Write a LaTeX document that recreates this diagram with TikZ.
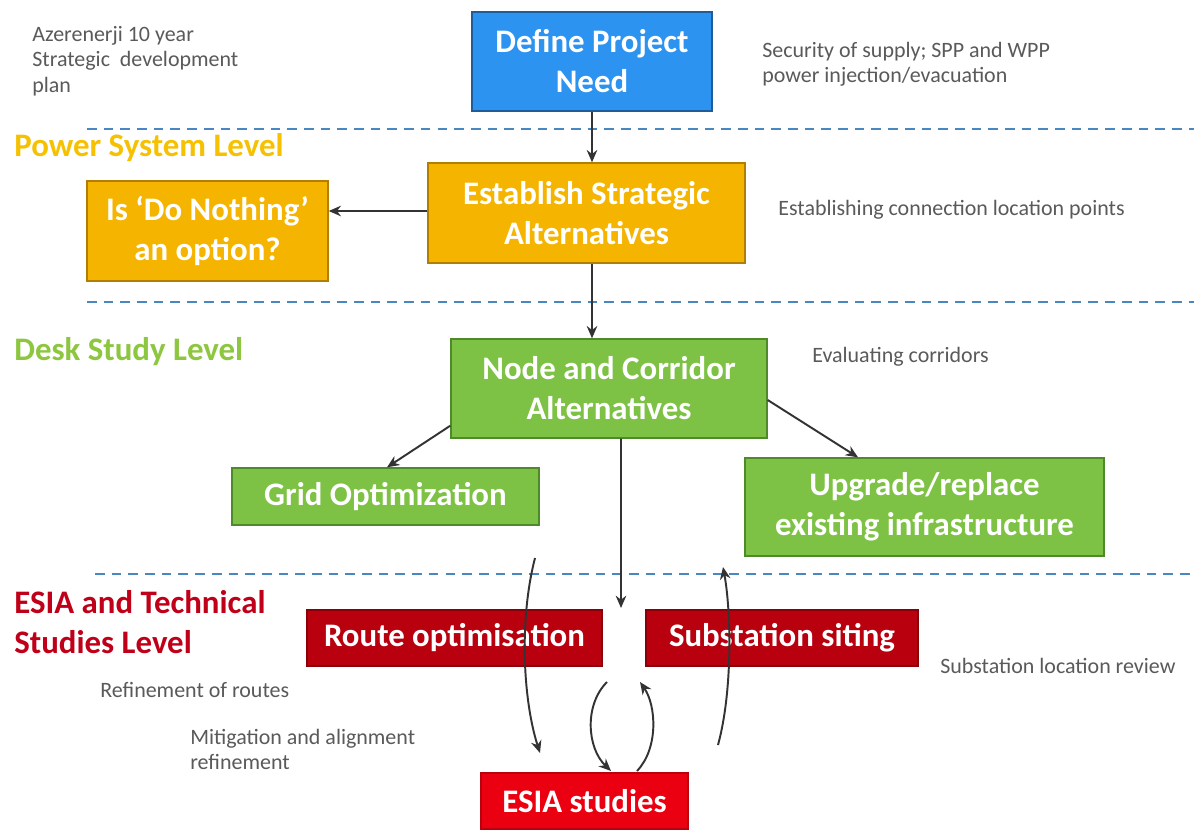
\documentclass[tikz,border=0pt]{standalone}
\usepackage{fontspec}
\setmainfont{Carlito}
\usetikzlibrary{arrows.meta}
\definecolor{blueF}{HTML}{2D93F0}
\definecolor{blueD}{HTML}{1F5C99}
\definecolor{orangeF}{HTML}{F5B400}
\definecolor{orangeD}{HTML}{B07F00}
\definecolor{greenF}{HTML}{7DC244}
\definecolor{greenD}{HTML}{4E8A2A}
\definecolor{redD}{HTML}{B8000F}
\definecolor{redDB}{HTML}{8A0008}
\definecolor{redB}{HTML}{EA0010}
\definecolor{lvlOrange}{HTML}{F5C100}
\definecolor{lvlGreen}{HTML}{8DC63F}
\definecolor{lvlRed}{HTML}{C00018}
\definecolor{greyT}{HTML}{5A5A5A}
\definecolor{dashC}{HTML}{4A86C0}
\definecolor{arrC}{HTML}{333333}
\tikzset{
  boxbase/.style={inner sep=0pt, align=center, text=white, line width=0.8pt,
    font=\fontsize{18.7}{22.7}\selectfont\bfseries},
  bluebox/.style={boxbase, fill=blueF, draw=blueD},
  orangebox/.style={boxbase, fill=orangeF, draw=orangeD},
  greenbox/.style={boxbase, fill=greenF, draw=greenD},
  darkredbox/.style={boxbase, fill=redD, draw=redDB},
  redbox/.style={boxbase, fill=redB, draw=redB!80!black},
  greytext/.style={inner sep=0pt, align=left, text=greyT, anchor=west,
    font=\fontsize{12.5}{14.5}\selectfont},
  leveltext/.style={inner sep=0pt, align=left, anchor=west,
    font=\fontsize{18.7}{22.3}\selectfont\bfseries},
  arr/.style={draw=arrC, line width=1.1pt, -{Stealth[length=7pt,width=6pt]}},
  levelline/.style={draw=dashC, line width=1.4pt, dash pattern=on 5.5pt off 4pt}
}
\begin{document}
\begin{tikzpicture}[x=0.02cm,y=-0.02cm]
\useasboundingbox (0,0) rectangle (1194,829);
\fill[white] (0,0) rectangle (1194,829);

% level separators
\coordinate (l1a) at (87,129);  \coordinate (l1b) at (1194,129);
\coordinate (l2a) at (87,302);  \coordinate (l2b) at (1194,302);
\coordinate (l3a) at (95,574);  \coordinate (l3b) at (1194,574);
\draw[levelline] (l1a) -- (l1b);
\draw[levelline] (l2a) -- (l2b);
\draw[levelline] (l3a) -- (l3b);

% boxes
\node[bluebox, minimum width=4.8cm, minimum height=1.98cm] (define) at (592,61.5) {Define Project\\Need};
\node[orangebox, minimum width=6.34cm, minimum height=2.0cm] (establish) at (586.5,213) {Establish Strategic\\Alternatives};
\node[orangebox, minimum width=4.82cm, minimum height=2.0cm] (nothing) at (207.5,231) {Is ‘Do Nothing’\\an option?};
\node[greenbox, minimum width=6.32cm, minimum height=1.98cm] (corridor) at (609,388.5) {Node and Corridor\\Alternatives};
\node[greenbox, minimum width=6.14cm, minimum height=1.14cm] (grid) at (385.5,496.5) {Grid Optimization};
\node[greenbox, minimum width=7.18cm, minimum height=1.96cm] (upgrade) at (924.5,507) {Upgrade/replace\\existing infrastructure};
\node[darkredbox, minimum width=5.9cm, minimum height=1.12cm] (route) at (454.5,638) {Route optimisation};
\node[darkredbox, minimum width=5.44cm, minimum height=1.12cm] (siting) at (782,638) {Substation siting};
\node[redbox, minimum width=4.14cm, minimum height=1.12cm] (esia) at (584.5,801) {ESIA studies};

% level labels
\node[leveltext, text=lvlOrange] (lvl1) at (14,148) {Power System Level};
\node[leveltext, text=lvlGreen] (lvl2) at (14,352) {Desk Study Level};
\node[leveltext, text=lvlRed] (lvl3) at (14,622) {ESIA and Technical\\Studies Level};

% grey annotations
\node[greytext] (plan) at (32,61) {Azerenerji 10 year\\Strategic\ \ development\\plan};
\node[greytext] (security) at (762,64.5) {Security of supply; SPP and WPP\\power injection/evacuation};
\node[greytext] (connpts) at (778,210) {Establishing connection location points};
\node[greytext] (evalc) at (812,357) {Evaluating corridors};
\node[greytext] (sublr) at (940,666) {Substation location review};
\node[greytext] (refr) at (100,690) {Refinement of routes};
\node[greytext] (mitig) at (190,749.5) {Mitigation and alignment\\refinement};

% connectors
\draw[arr] (define.south) -- (define.south |- establish.north);
\draw[arr] (establish.west |- 0,211) -- (nothing.east |- 0,211);
\draw[arr] (establish.south -| define.south) -- (corridor.north -| define.south);
\draw[arr] ([yshift=0.26cm]corridor.south west) -- ([xshift=0.03cm]grid.north);
\draw[arr] ([yshift=-0.23cm]corridor.east) -- ([xshift=-1.33cm]upgrade.north);
\coordinate (gap) at (621,608);
\draw[arr] ([xshift=0.24cm]corridor.south) -- (gap);

% iteration loops
\coordinate (la) at (535,558); \coordinate (lb) at (540,753);
\draw[arr] (la) .. controls (519,620) and (523,700) .. (lb);
\coordinate (ra) at (718,745); \coordinate (rb) at (723,567);
\draw[arr] (ra) .. controls (733,690) and (731,610) .. (rb);
\coordinate (sla) at (607,682); \coordinate (slb) at (611,771);
\draw[arr] (sla) .. controls (584,705) and (587,748) .. (slb);
\coordinate (sra) at (637,771); \coordinate (srb) at (640,682);
\draw[arr] (sra) .. controls (659,748) and (656,705) .. (srb);
\end{tikzpicture}
\end{document}
